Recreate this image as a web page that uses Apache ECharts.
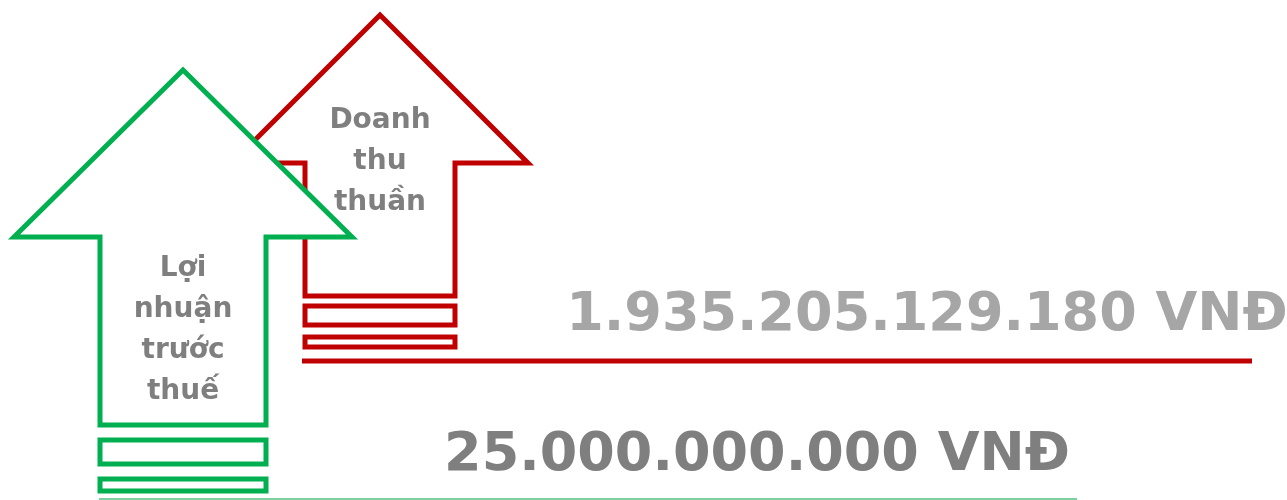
<!DOCTYPE html>
<html>
<head>
<meta charset="utf-8">
<script src="https://cdn.jsdelivr.net/npm/echarts@6/dist/echarts.min.js"></script>
<style>
  html, body { margin: 0; padding: 0; background: #fff; }
  #chart { width: 1287px; height: 500px; }
</style>
</head>
<body>
<div id="chart"></div>
<script>
// data
const categories = ['Doanh thu thuần', 'Lợi nhuận trước thuế']
const amounts = ['1.935.205.129.180 VNĐ', '25.000.000.000 VNĐ']

// layout of each arrow in axis units (axis = pixel grid of the picture)
const layout = [
  { cx: 380, tip: 15, head: 163, headHalf: 148, shaftL: 305, shaftR: 455, bottom: 296,
    bars: [[306, 325], [337, 347]], rule: { y: 361, x1: 302, x2: 1252, w: 5, color: '#c00000' },
    labelY: 162, amount: { x: 927, y: 316, color: '#a6a6a6' }, color: '#c00000' },
  { cx: 183, tip: 70, head: 237, headHalf: 169, shaftL: 100, shaftR: 266, bottom: 425,
    bars: [[440, 464], [479, 491]], rule: { y: 499, x1: 99, x2: 1077, w: 2, color: '#7dcf9f' },
    labelY: 330, amount: { x: 757, y: 456, color: '#7f7f7f' }, color: '#00b050' }
]

const FONT = '"DejaVu Sans", Verdana, sans-serif'

function renderItem(params, api) {
  const i = params.dataIndex
  const L = layout[i]
  const p = (x, y) => api.coord([x, y])
  const stroke = { fill: '#fff', stroke: L.color, lineWidth: 5, lineJoin: 'miter' }
  const children = []

  // arrow outline
  children.push({
    type: 'polygon',
    shape: {
      points: [
        p(L.cx, L.tip), p(L.cx + L.headHalf, L.head), p(L.shaftR, L.head), p(L.shaftR, L.bottom),
        p(L.shaftL, L.bottom), p(L.shaftL, L.head), p(L.cx - L.headHalf, L.head)
      ]
    },
    style: stroke
  })
  // stacked bars under the arrow
  L.bars.forEach(([y1, y2]) => {
    const a = p(L.shaftL, y1)
    const b = p(L.shaftR, y2)
    children.push({ type: 'rect', shape: { x: a[0], y: a[1], width: b[0] - a[0], height: b[1] - a[1] }, style: stroke })
  })
  const r1 = p(L.rule.x1, L.rule.y)
  const r2 = p(L.rule.x2, L.rule.y)
  children.push({
    type: 'line',
    shape: { x1: r1[0], y1: r1[1], x2: r2[0], y2: r2[1] },
    style: { stroke: L.rule.color, lineWidth: L.rule.w }
  })
  const lp = p(L.cx, L.labelY)
  children.push({
    type: 'text',
    style: {
      text: categories[i].split(' ').join('\n'),
      x: lp[0], y: lp[1], align: 'center', verticalAlign: 'middle',
      fill: '#7f7f7f', font: 'bold 28px ' + FONT, lineHeight: 41
    }
  })
  const ap = p(L.amount.x, L.amount.y)
  children.push({
    type: 'text',
    style: {
      text: amounts[i], x: ap[0], y: ap[1], align: 'center', verticalAlign: 'middle',
      fill: L.amount.color, font: 'bold 54px ' + FONT
    }
  })
  return { type: 'group', children }
}

const chart = echarts.init(document.getElementById('chart'))
chart.setOption({
  animation: false,
  grid: { left: 0, right: 0, top: 0, bottom: 0 },
  xAxis: { type: 'value', min: 0, max: 1287, show: false },
  yAxis: { type: 'value', min: 0, max: 500, inverse: true, show: false },
  series: [{
    type: 'custom',
    coordinateSystem: 'cartesian2d',
    renderItem,
    clip: false,
    data: categories.map((c, i) => [i, 0])
  }]
})
</script>
</body>
</html>
